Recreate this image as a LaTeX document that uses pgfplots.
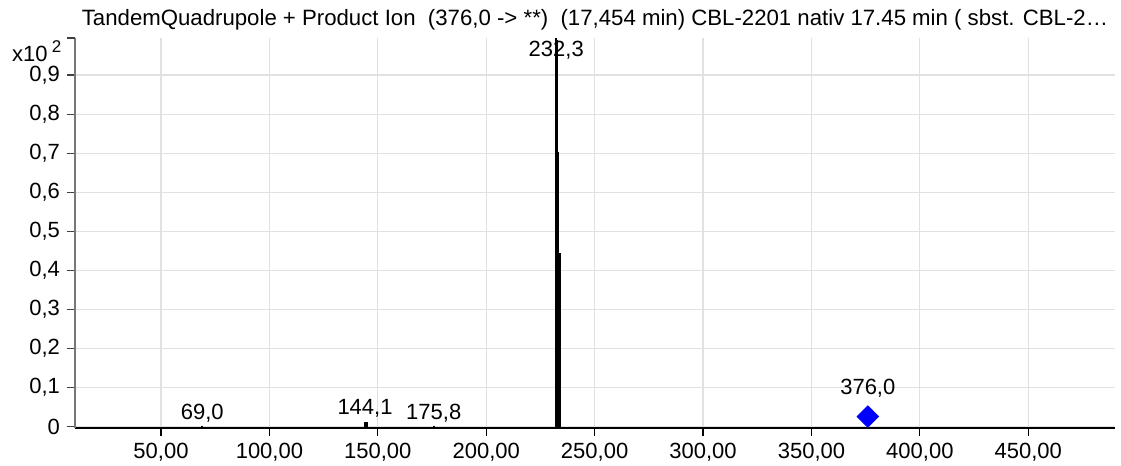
\documentclass[border=0pt]{standalone}
\usepackage{fontspec}
\setmainfont{Liberation Sans}
\usepackage{pgfplots}
\pgfplotsset{compat=1.18}

\definecolor{gridgray}{RGB}{225,225,225}
\definecolor{axisgray}{RGB}{120,120,120}
\definecolor{precursor}{RGB}{0,0,255}

\newcommand{\lblfont}{\fontsize{11}{13}\selectfont}

\begin{document}
\begin{tikzpicture}
\path[use as bounding box] (-37.5pt,-18.85pt) rectangle (523pt,214.15pt);
\begin{axis}[
  at={(0,0)}, anchor=south west,
  scale only axis,
  width=520pt, height=195.2pt,
  xmin=10.33, xmax=490, ymin=-0.004, ymax=0.995,
  axis lines*=left,
  x axis line style={black, line width=0.8pt},
  y axis line style={axisgray, line width=0.8pt},
  xtick={50,100,150,200,250,300,350,400,450},
  xticklabels={{50,00},{100,00},{150,00},{200,00},{250,00},{300,00},{350,00},{400,00},{450,00}},
  ytick={0,0.1,0.2,0.3,0.4,0.5,0.6,0.7,0.8,0.9},
  yticklabels={0,{0,1},{0,2},{0,3},{0,4},{0,5},{0,6},{0,7},{0,8},{0,9}},
  extra y ticks={0.995},
  extra y tick labels={},
  extra y tick style={grid=none},
  tick align=outside,
  major tick length=4pt,
  x tick style={black, line width=0.6pt},
  y tick style={black!75, line width=0.6pt},
  grid=major,
  grid style={gridgray, line width=0.6pt},
  ticklabel style={font=\lblfont},
  title={TandemQuadrupole + Product Ion\ \ (376,0 -> **)\ \ (17,454 min) CBL-2201 nativ 17.45 min ( sbst. CBL-2\ldots},
  title style={font=\fontsize{11.1}{13}\selectfont, at={(0.5,1)}, anchor=base, yshift=0pt},
  clip=true,
]
% product ion sticks
\addplot[ycomb, black, line width=0.9pt, no marks] coordinates {
  (69.0,0.002)
  (144.1,0.011) (145.0,0.011)
  (175.8,0.002)
  (232.3,0.995) (232.7,0.99) (233.2,0.703) (233.6,0.444) (234.1,0.444)
};
% precursor ion
\addplot[only marks, mark=square*, mark size=3.8pt,
  mark options={rotate=45, fill=precursor, draw=precursor}] coordinates {(376.0,0.026)};

\node[anchor=base, font=\lblfont] at (axis cs:69.0,0) [yshift=3.7pt] {69,0};
\node[anchor=base, font=\lblfont] at (axis cs:144.1,0.011) [yshift=4pt] {144,1};
\node[anchor=base, font=\lblfont] at (axis cs:175.8,0) [yshift=3.7pt] {175,8};
\node[anchor=base, font=\lblfont] at (axis cs:232.3,0.947) {232,3};
\node[anchor=base, font=\lblfont] at (axis cs:376.0,0.026) [yshift=10.85pt] {376,0};
\end{axis}
\node[anchor=base west, inner sep=0pt, font=\lblfont] at (-31.65pt,183.3pt)
  {x10\hspace{2.15pt}\raisebox{4.5pt}{\fontsize{8.5}{9}\selectfont 2}};
\end{tikzpicture}
\end{document}
